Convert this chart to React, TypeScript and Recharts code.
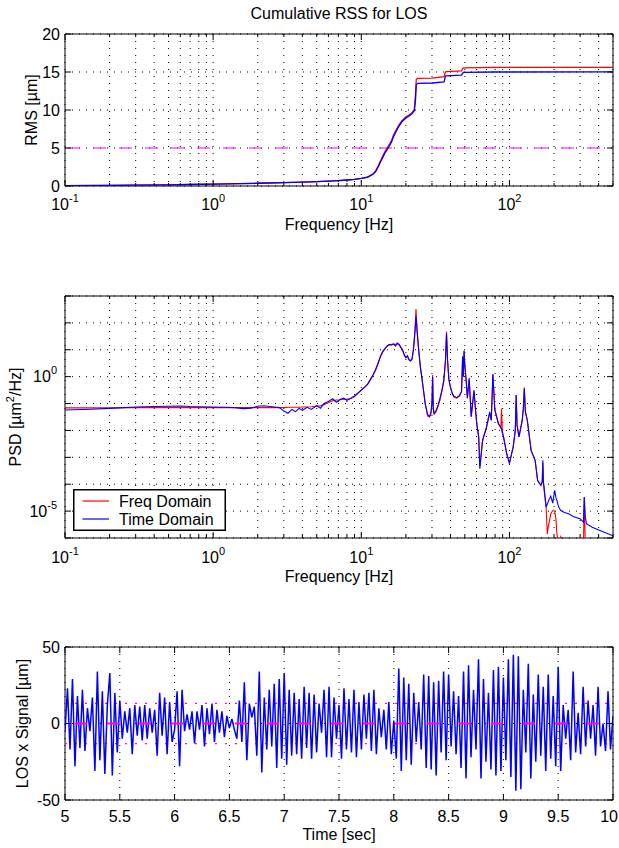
import React from 'react';
import {
  LineChart,
  Line,
  XAxis,
  YAxis,
  CartesianGrid,
  ReferenceLine,
  ReferenceArea,
  Legend,
} from 'recharts';

// ---------------- data ----------------
// Cumulative RSS (RMS, µm) vs frequency (Hz)
const RMS_FREQ_HZ = [
  0.1, 0.2, 0.3, 0.5, 0.7, 1, 1.5, 2, 3, 4,
  5, 6, 7, 8, 9, 10, 11, 12, 12.5, 13,
  13.5, 14, 14.5, 15, 15.5, 16, 16.5, 17, 17.8, 18.8,
  20, 21, 22, 22.8, 23.2, 23.5, 24, 30, 36.2, 36.8,
  37.2, 47.5, 48.3, 49, 78, 500,
];
const RMS_FREQ_DOMAIN = [
  0.03, 0.08, 0.11, 0.16, 0.2, 0.25, 0.31, 0.36, 0.44, 0.51,
  0.57, 0.64, 0.71, 0.79, 0.88, 1.0, 1.17, 1.6, 2.0, 2.65,
  3.35, 4.0, 4.6, 5.05, 5.5, 6.0, 6.7, 7.2, 7.9, 8.6,
  9.1, 9.35, 9.65, 10.1, 12.0, 14.0, 14.15, 14.2, 14.4, 14.9,
  15.05, 15.15, 15.45, 15.55, 15.6, 15.62,
];
const RMS_TIME_DOMAIN = [
  0.03, 0.08, 0.11, 0.16, 0.2, 0.25, 0.31, 0.36, 0.44, 0.51,
  0.57, 0.64, 0.71, 0.79, 0.88, 1.0, 1.15, 1.55, 1.9, 2.5,
  3.2, 3.8, 4.4, 4.85, 5.3, 5.8, 6.5, 7.0, 7.75, 8.45,
  8.95, 9.2, 9.5, 9.9, 11.2, 13.3, 13.5, 13.55, 13.7, 14.3,
  14.5, 14.6, 14.85, 14.95, 15.0, 15.02,
];
const RMS_REQUIREMENT = 5;

// PSD (µm²/Hz), values read as decades (log10)
const PSD_FREQ_HZ = [
  0.1, 0.15, 0.2, 0.3, 0.4, 0.5, 0.6, 0.7, 0.8, 1.0,
  1.2, 1.4, 1.6, 1.8, 2.0, 2.2, 2.5, 2.8, 3.0, 3.2,
  3.4, 3.6, 3.8, 4.0, 4.3, 4.6, 5.0, 5.3, 5.6, 6.0,
  6.4, 6.8, 7.2, 7.6, 8.0, 8.5, 9.0, 9.5, 10, 10.5,
  11, 11.5, 12, 12.5, 13, 13.5, 14, 14.5, 15, 15.5,
  16, 16.5, 17, 17.5, 18, 18.5, 19, 19.5, 20, 20.5,
  21, 21.5, 22, 22.5, 23, 23.4, 23.8, 24.3, 25, 26,
  27, 28, 28.8, 29.5, 30, 30.3, 30.6, 31, 32, 33,
  34, 35, 36, 37, 37.6, 38.2, 39, 40, 41, 42,
  44, 46, 47.5, 48.3, 48.8, 49.4, 50, 51, 52, 53.5,
  55.2, 57.6, 60.1, 62, 63.1, 65.9, 70, 73.6, 75.4, 77.3,
  79.7, 84.2, 87.5, 88.4, 89.5, 91.2, 95.8, 100, 106, 109.5,
  111, 112.5, 116, 122, 124, 126, 128, 132, 140, 149,
  155, 163, 166.5, 168, 169.5, 172, 177, 180, 184, 190,
  196, 202, 206, 209, 215, 222, 235, 251, 270, 301,
  316, 320, 325, 331, 362, 420, 500,
];
const PSD_TIME_DOMAIN_LOG10 = [
  -1.24, -1.21, -1.18, -1.13, -1.11, -1.10, -1.09, -1.11, -1.12, -1.13,
  -1.14, -1.15, -1.19, -1.17, -1.10, -1.08, -1.12, -1.15, -1.28, -1.36,
  -1.22, -1.30, -1.18, -1.25, -1.14, -1.22, -1.07, -1.17, -1.00, -0.92,
  -0.82, -0.95, -0.85, -0.80, -0.88, -0.80, -0.72, -0.60, -0.50, -0.40,
  -0.30, -0.12, 0.05, 0.25, 0.50, 0.78, 0.95, 1.05, 1.15, 1.20,
  1.17, 1.22, 1.14, 1.25, 1.20, 1.08, 0.98, 0.80, 0.70, 0.78,
  0.62, 0.58, 0.65, 1.00, 1.60, 2.25, 1.70, 1.10, 0.40, -0.30,
  -1.00, -1.40, -1.48, -1.35, -1.00, 0.00, -1.20, -1.38, -1.25, -1.05,
  -0.80, -0.50, -0.15, 0.60, 1.60, 0.60, -0.10, -0.40, -0.60, -0.72,
  -0.78, -0.70, -0.55, 0.75, 0.00, 0.95, 0.40, -0.12, -0.80, -0.05,
  -1.49, -0.50, -1.74, -2.24, -3.42, -2.36, -1.87, -1.31, -1.62, 0.09,
  -1.24, -1.74, -1.90, -1.95, -2.10, -2.24, -2.86, -3.23, -2.61, -2.00,
  -0.68, -1.80, -2.24, -1.62, -1.20, -0.44, -1.30, -1.62, -2.74, -3.11,
  -3.86, -4.04, -3.90, -3.11, -3.90, -4.20, -4.85, -4.75, -4.60, -4.45,
  -4.70, -4.23, -4.50, -4.60, -4.85, -4.98, -5.05, -5.10, -5.20, -5.29,
  -5.41, -4.48, -5.20, -5.47, -5.60, -5.75, -5.92,
];
const PSD_FREQ_DOMAIN_LOG10 = [
  -1.16, -1.16, -1.16, -1.15, -1.15, -1.15, -1.15, -1.15, -1.15, -1.15,
  -1.15, -1.15, -1.15, -1.15, -1.15, -1.15, -1.15, -1.15, -1.15, -1.14,
  -1.14, -1.14, -1.14, -1.13, -1.13, -1.12, -1.10, -1.08, -1.04, -0.97,
  -0.90, -0.87, -0.86, -0.84, -0.84, -0.81, -0.74, -0.62, -0.50, -0.40,
  -0.28, -0.10, 0.07, 0.28, 0.52, 0.76, 0.93, 1.06, 1.14, 1.19,
  1.20, 1.21, 1.20, 1.22, 1.18, 1.10, 1.00, 0.82, 0.72, 0.74,
  0.64, 0.60, 0.66, 1.05, 1.70, 2.52, 1.75, 1.10, 0.40, -0.30,
  -1.00, -1.46, -1.50, -1.40, -0.90, 0.06, -1.10, -1.38, -1.30, -1.10,
  -0.85, -0.55, -0.20, 0.60, 1.68, 0.65, -0.10, -0.40, -0.60, -0.75,
  -0.80, -0.72, -0.55, 0.75, 0.00, 0.97, 0.42, -0.12, -0.80, -0.10,
  -1.49, -0.55, -1.74, -2.24, -3.35, -2.36, -1.90, -1.35, -1.62, 0.09,
  -1.24, -1.74, -1.90, -1.18, -2.00, -2.24, -2.86, -3.20, -2.61, -2.00,
  -0.68, -1.80, -2.24, -1.62, -1.20, -0.40, -1.30, -1.62, -2.74, -3.11,
  -3.86, -4.04, -3.90, -3.20, -3.95, -4.30, -4.90, -5.85, -5.50, -5.10,
  -4.98, -5.00, -5.30, -5.85, -6.20, -5.95, -6.30, -6.10, -6.40, -6.30,
  -6.20, -4.48, -6.30, -6.50, -6.50, -6.60, -6.70,
];

// LOS time signal (µm), sampled from 5 s to 10 s
const SIGNAL_START_SEC = 5;
const SIGNAL_END_SEC = 10;
const SIGNAL_STEP_SEC = 5 / 220;
const SIGNAL_UM = [
  -5, 23, -17, 29, -28, 18, -16, 22, -18, 10, -5, 17, -31, 34, -24, 21, -33, 12, 33, -34, 20, -19,
  15, -10, 8, -6, 10, -20, 12, -8, 11, -11, 12, -10, 10, -6, 9, -21, 20, -8, 17, -20, 14, -12,
  -4, 21, -28, 22, -5, 6, -4, 8, -13, 8, -4, 12, -15, 10, -7, 13, -12, 9, -6, 8, -9, 5,
  -3, 3, -4, -10, 15, -12, 27, -24, 13, 4, 11, -21, 34, -32, 17, -17, 22, -15, 26, -29, 29, -23,
  33, -27, 22, -21, 20, -20, 16, -23, 24, -16, 20, -23, 19, -19, 13, -6, 22, -22, 24, -22, 17, -10,
  12, -23, 23, -17, 16, -19, 22, -22, 14, -17, 19, -10, 20, -18, 22, -20, 10, -9, 9, -17, 14, -20,
  2, -23, 36, -31, 30, -24, 26, -27, 20, -12, 14, -17, 32, -29, 31, -30, 27, -34, 28, -19, 34, -24,
  32, -15, 21, -20, 18, -29, 34, -36, 38, -22, 22, -17, 42, -36, 29, -25, 20, -30, 35, -34, 37, -31,
  30, -24, 42, -35, 45, -44, 44, -43, 22, -19, 39, -36, 19, -25, 32, -21, 24, -31, 32, -23, 18, -28,
  37, -31, 12, -10, 9, -24, 34, -19, 7, -20, 24, -15, 15, -10, 12, -21, 24, -15, 0, -18, 21, -17,
  5,
];
const SIGNAL_MEAN = 0;
const SIGNAL_SIGMA = 13.2;

// ticks
const LOG_X_TICKS = [
  0.1, 0.2, 0.3, 0.4, 0.5, 0.6, 0.7, 0.8, 0.9,
  1, 2, 3, 4, 5, 6, 7, 8, 9,
  10, 20, 30, 40, 50, 60, 70, 80, 90,
  100, 200, 300, 400, 500,
];
const RMS_Y_TICKS = [0, 5, 10, 15, 20];
const PSD_Y_TICKS = [1e-6, 1e-5, 1e-4, 1e-3, 1e-2, 1e-1, 1, 10, 100, 1000];
const PSD_Y_LABELED_EXP = [0, -5];
const TIME_TICKS = [5, 5.5, 6, 6.5, 7, 7.5, 8, 8.5, 9, 9.5, 10];
const SIGNAL_Y_TICKS = [-50, 0, 50];

// ---------------- derived tables ----------------
const rmsFreqData = RMS_FREQ_HZ.map((f, i) => ({ f, v: RMS_FREQ_DOMAIN[i] }));
const rmsTimeData = RMS_FREQ_HZ.map((f, i) => ({ f, v: RMS_TIME_DOMAIN[i] }));
const psdFreqData = PSD_FREQ_HZ.map((f, i) => ({ f, v: Math.pow(10, PSD_FREQ_DOMAIN_LOG10[i]) }));
const psdTimeData = PSD_FREQ_HZ.map((f, i) => ({ f, v: Math.pow(10, PSD_TIME_DOMAIN_LOG10[i]) }));
const signalData = SIGNAL_UM.map((v, i) => ({ t: SIGNAL_START_SEC + i * SIGNAL_STEP_SEC, v }));
const meanData = [
  { t: SIGNAL_START_SEC, v: SIGNAL_MEAN },
  { t: SIGNAL_END_SEC, v: SIGNAL_MEAN },
];

// ---------------- styling / layout ----------------
const FONT = "'Liberation Sans', Arial, Helvetica, sans-serif";
const W = 619;
const PL = 65;
const PR = 613;
const FS = 16;
const SUP = 11;
const RED = '#ff0000';
const BLUE = '#0000ff';
const MAGENTA = '#ff00ff';
const GRID_DASH = '1 6';

type Box = { top: number; bottom: number };

const isDecade = (v: number) => {
  const lg = Math.log10(v);
  return Math.abs(lg - Math.round(lg)) < 1e-6;
};

const logXTick = (box: Box, labelDy: number) => (props: any) => {
  const { x, payload } = props;
  const v = payload.value;
  const major = isDecade(v);
  const exp = Math.round(Math.log10(v));
  const len = major ? 6 : 3;
  return (
    <g>
      <line x1={x} x2={x} y1={box.bottom} y2={box.bottom - len} stroke="#000" />
      <line x1={x} x2={x} y1={box.top} y2={box.top + len} stroke="#000" />
      {major && (
        <text x={x} y={box.bottom + labelDy} textAnchor="middle" fontSize={FS} fontFamily={FONT} fill="#000">
          10
          <tspan dy={-8} fontSize={SUP}>
            {exp}
          </tspan>
        </text>
      )}
    </g>
  );
};

const linXTick = (box: Box, labelDy: number) => (props: any) => {
  const { x, payload } = props;
  // keep the last label inside the picture
  const atRightEdge = x > W - 12;
  return (
    <g>
      <line x1={x} x2={x} y1={box.bottom} y2={box.bottom - 6} stroke="#000" />
      <line x1={x} x2={x} y1={box.top} y2={box.top + 6} stroke="#000" />
      <text
        x={atRightEdge ? W - 1 : x}
        y={box.bottom + labelDy}
        textAnchor={atRightEdge ? 'end' : 'middle'}
        fontSize={FS}
        fontFamily={FONT}
        fill="#000"
      >
        {String(payload.value)}
      </text>
    </g>
  );
};

const linYTick = (props: any) => {
  const { y, payload } = props;
  return (
    <g>
      <line x1={PL} x2={PL + 6} y1={y} y2={y} stroke="#000" />
      <line x1={PR} x2={PR - 6} y1={y} y2={y} stroke="#000" />
      <text x={60} y={y + 5.8} textAnchor="end" fontSize={FS} fontFamily={FONT} fill="#000">
        {String(payload.value)}
      </text>
    </g>
  );
};

const logYTick = (props: any) => {
  const { y, payload } = props;
  const exp = Math.round(Math.log10(payload.value));
  const labeled = PSD_Y_LABELED_EXP.includes(exp);
  return (
    <g>
      <line x1={PL} x2={PL + 6} y1={y} y2={y} stroke="#000" />
      <line x1={PR} x2={PR - 6} y1={y} y2={y} stroke="#000" />
      {labeled && (
        <text x={57} y={y + 5.5} textAnchor="end" fontSize={FS} fontFamily={FONT} fill="#000">
          10
          <tspan dy={-8} fontSize={SUP}>
            {exp}
          </tspan>
        </text>
      )}
    </g>
  );
};

const xTitle = (y: number, text: string) => () => (
  <text x={(PL + PR) / 2} y={y} textAnchor="middle" fontSize={FS} fontFamily={FONT} fill="#000">
    {text}
  </text>
);

const yTitle = (x: number, y: number, content: React.ReactNode) => () => (
  <text
    x={x}
    y={y}
    textAnchor="middle"
    fontSize={FS}
    fontFamily={FONT}
    fill="#000"
    transform={`rotate(-90 ${x} ${y})`}
  >
    {content}
  </text>
);

const BOX1: Box = { top: 34, bottom: 186 };
const BOX2: Box = { top: 46, bottom: 288 };
const BOX3: Box = { top: 47, bottom: 200 };

const PsdLegend = () => (
  <svg width={153} height={42} style={{ display: 'block' }}>
    <rect x={0.75} y={0.75} width={151.5} height={40.5} fill="#fff" stroke="#000" strokeWidth={1.5} />
    <line x1={9.5} x2={36} y1={12} y2={12} stroke={RED} strokeWidth={1.2} />
    <text x={46} y={17.5} fontSize={FS} fontFamily={FONT} fill="#000">
      Freq Domain
    </text>
    <line x1={9.5} x2={36} y1={30} y2={30} stroke={BLUE} strokeWidth={1.2} />
    <text x={46} y={36} fontSize={FS} fontFamily={FONT} fill="#000">
      Time Domain
    </text>
  </svg>
);

export default function App() {
  return (
    <div
      style={{
        position: 'absolute',
        left: 0,
        top: 0,
        width: W,
        height: 848,
        background: '#fff',
        fontFamily: FONT,
        overflow: 'hidden',
      }}
    >
      <div
        style={{
          position: 'absolute',
          left: PL,
          width: PR - PL,
          top: 5,
          textAlign: 'center',
          fontSize: FS,
          lineHeight: '18px',
          color: '#000',
        }}
      >
        Cumulative RSS for LOS
      </div>

      {/* Top: cumulative RMS */}
      <div style={{ position: 'absolute', left: 0, top: 0 }}>
        <LineChart width={W} height={250} margin={{ top: 34, right: W - PR, bottom: 0, left: 0 }}>
          <CartesianGrid stroke="#000" strokeDasharray={GRID_DASH} />
          <XAxis
            dataKey="f"
            type="number"
            scale="log"
            domain={[0.1, 500]}
            allowDataOverflow
            ticks={LOG_X_TICKS}
            interval={0}
            height={64}
            tickLine={false}
            axisLine={false}
            tick={logXTick(BOX1, 24)}
            label={xTitle(230, 'Frequency [Hz]')}
          />
          <YAxis
            type="number"
            domain={[0, 20]}
            allowDataOverflow
            ticks={RMS_Y_TICKS}
            interval={0}
            width={PL}
            tickLine={false}
            axisLine={false}
            tick={linYTick}
            label={yTitle(36.5, 110, 'RMS [µm]')}
          />
          <ReferenceLine y={RMS_REQUIREMENT} stroke={MAGENTA} strokeWidth={1.2} strokeDasharray="13 13" strokeDashoffset={24} />
          <Line data={rmsFreqData} dataKey="v" stroke={RED} strokeWidth={1.3} dot={false} type="linear" isAnimationActive={false} />
          <Line data={rmsTimeData} dataKey="v" stroke={BLUE} strokeWidth={1.3} dot={false} type="linear" isAnimationActive={false} />
          <ReferenceArea x1={0.1} x2={500} y1={0} y2={20} fill="none" stroke="#000" strokeWidth={1} />
        </LineChart>
      </div>

      {/* Middle: PSD */}
      <div style={{ position: 'absolute', left: 0, top: 250 }}>
        <LineChart width={W} height={350} margin={{ top: 46, right: W - PR, bottom: 0, left: 0 }}>
          <CartesianGrid stroke="#000" strokeDasharray={GRID_DASH} />
          <XAxis
            dataKey="f"
            type="number"
            scale="log"
            domain={[0.1, 500]}
            allowDataOverflow
            ticks={LOG_X_TICKS}
            interval={0}
            height={62}
            tickLine={false}
            axisLine={false}
            tick={logXTick(BOX2, 25)}
            label={xTitle(332, 'Frequency [Hz]')}
          />
          <YAxis
            type="number"
            scale="log"
            domain={[1e-6, 1e3]}
            allowDataOverflow
            ticks={PSD_Y_TICKS}
            interval={0}
            width={PL}
            tickLine={false}
            axisLine={false}
            tick={logYTick}
            label={yTitle(
              21,
              167,
              <>
                PSD [µm
                <tspan dy={-7} fontSize={SUP}>
                  2
                </tspan>
                <tspan dy={7} fontSize={FS}>
                  /Hz]
                </tspan>
              </>
            )}
          />
          <Line data={psdFreqData} dataKey="v" stroke={RED} strokeWidth={1.1} dot={false} type="linear" isAnimationActive={false} />
          <Line data={psdTimeData} dataKey="v" stroke={BLUE} strokeWidth={1.1} dot={false} type="linear" isAnimationActive={false} />
          <ReferenceArea x1={0.1} x2={500} y1={1e-6} y2={1e3} fill="none" stroke="#000" strokeWidth={1} />
          <Legend
            layout="vertical"
            align="center"
            verticalAlign="middle"
            wrapperStyle={{ position: 'absolute', left: 73, top: 239, width: 153, height: 42 }}
            content={() => <PsdLegend />}
          />
        </LineChart>
      </div>

      {/* Bottom: time signal */}
      <div style={{ position: 'absolute', left: 0, top: 600 }}>
        <LineChart width={W} height={248} margin={{ top: 47, right: W - PR, bottom: 0, left: 0 }}>
          <CartesianGrid stroke="#000" strokeDasharray={GRID_DASH} />
          <XAxis
            dataKey="t"
            type="number"
            domain={[SIGNAL_START_SEC, SIGNAL_END_SEC]}
            allowDataOverflow
            ticks={TIME_TICKS}
            interval={0}
            height={48}
            tickLine={false}
            axisLine={false}
            tick={linXTick(BOX3, 22)}
            label={xTitle(240, 'Time [sec]')}
          />
          <YAxis
            type="number"
            domain={[-50, 50]}
            allowDataOverflow
            ticks={SIGNAL_Y_TICKS}
            interval={0}
            width={PL}
            tickLine={false}
            axisLine={false}
            tick={linYTick}
            label={yTitle(28, 123.5, 'LOS x Signal [µm]')}
          />
          <ReferenceLine y={SIGNAL_MEAN + SIGNAL_SIGMA} stroke={MAGENTA} strokeWidth={1.2} strokeDasharray="2 8" />
          <ReferenceLine y={SIGNAL_MEAN - SIGNAL_SIGMA} stroke={MAGENTA} strokeWidth={1.2} strokeDasharray="2 8" />
          <Line data={signalData} dataKey="v" stroke={BLUE} strokeWidth={1.5} dot={false} type="linear" isAnimationActive={false} />
          <Line
            data={meanData}
            dataKey="v"
            stroke={MAGENTA}
            strokeWidth={1.8}
            strokeDasharray="12 20"
            strokeDashoffset={22}
            dot={false}
            type="linear"
            isAnimationActive={false}
          />
          <ReferenceArea x1={SIGNAL_START_SEC} x2={SIGNAL_END_SEC} y1={-50} y2={50} fill="none" stroke="#000" strokeWidth={1} />
        </LineChart>
      </div>
    </div>
  );
}
